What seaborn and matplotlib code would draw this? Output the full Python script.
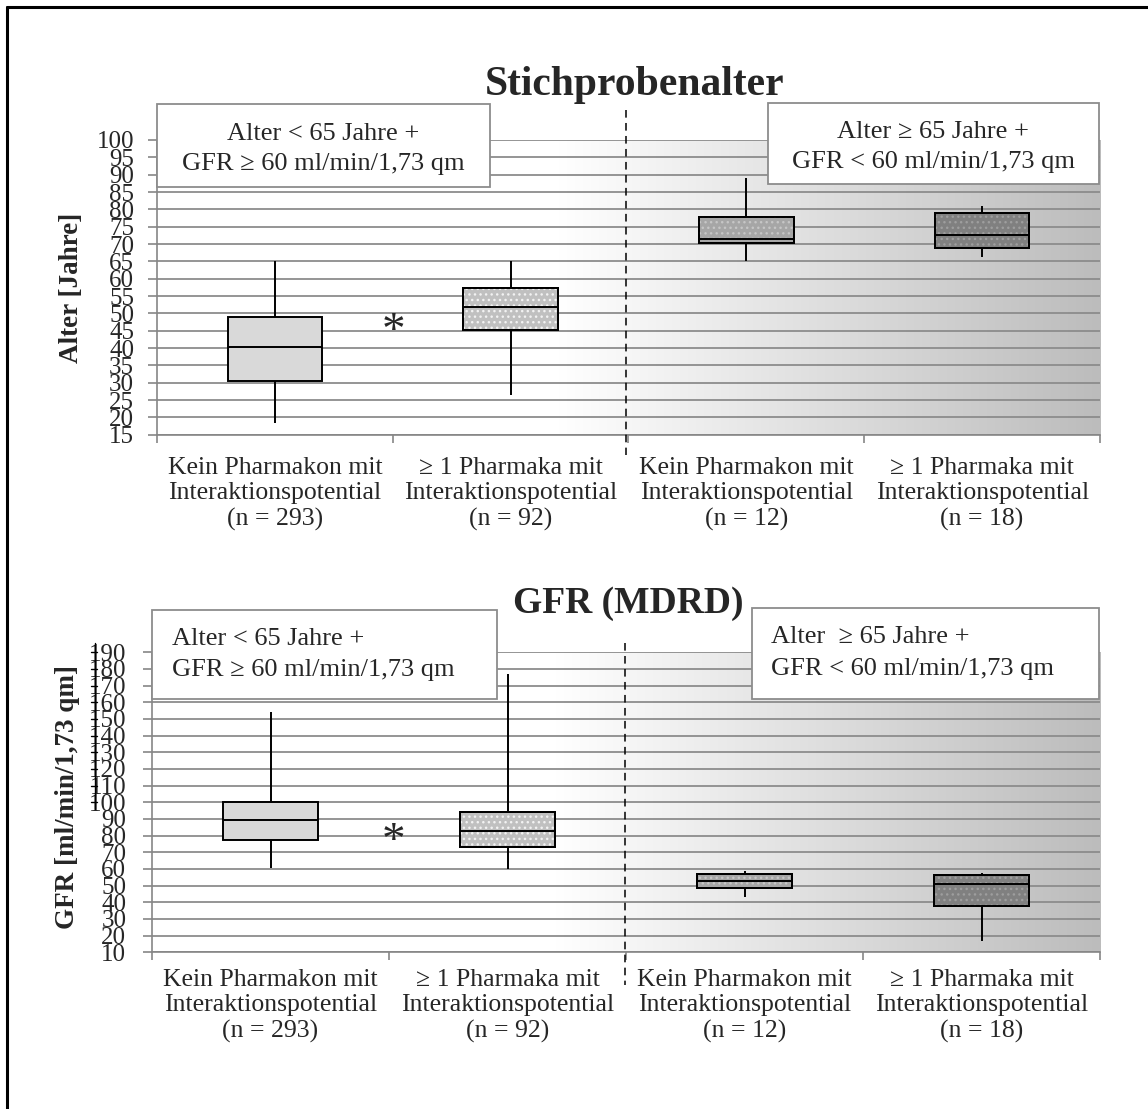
import numpy as np
import pandas as pd
import seaborn as sns
import matplotlib.pyplot as plt
import matplotlib.transforms as mtransforms
from matplotlib.patches import Rectangle, PathPatch
from matplotlib.lines import Line2D
from matplotlib.colors import LinearSegmentedColormap

# Kategorien (x-Achse)
kategorien = [
    "Kein Pharmakon mit\nInteraktionspotential\n(n = 293)",
    "≥ 1 Pharmaka mit\nInteraktionspotential\n(n = 92)",
    "Kein Pharmakon mit\nInteraktionspotential\n(n = 12)",
    "≥ 1 Pharmaka mit\nInteraktionspotential\n(n = 18)",
]

# Fuenf-Punkte-Zusammenfassung je Gruppe: min, Q1, Median, Q3, max
alter_g1 = [18.4, 30.6, 40.2, 49.0, 65.0]
alter_g2 = [26.4, 45.2, 51.9, 57.2, 65.0]
alter_g3 = [65.1, 70.3, 71.4, 77.7, 89.0]
alter_g4 = [66.3, 68.9, 72.6, 78.9, 81.0]

gfr_g1 = [60.4, 77.4, 89.4, 100.3, 154.0]
gfr_g2 = [60.2, 73.4, 83.0, 94.0, 177.0]
gfr_g3 = [43.4, 48.4, 53.0, 56.8, 58.8]
gfr_g4 = [16.8, 38.0, 50.8, 56.2, 57.8]

farben = ["#d9d9d9", "#c0c0c0", "#a6a6a6", "#808080"]
punktfarben = [None, "#f2f2f2", "#c6c6c6", "#9e9e9e"]

W, H = 1148, 1109

sns.set_style("white")
plt.rcParams['font.family'] = ['Liberation Serif', 'DejaVu Serif']

fig = plt.figure(figsize=(W / 100, H / 100), dpi=100)


def fx(x):
    return x / W


def fy(y):
    return 1 - y / H


def achse(l, t, r, b):
    return fig.add_axes([fx(l), fy(b), (r - l) / W, (b - t) / H])


verlauf = LinearSegmentedColormap.from_list("verlauf", ["#ffffff", "#bcbcbc"])


def panel(ax, werte, ymin, ymax, schritt, tickpad, labelpad):
    df = pd.DataFrame({
        "gruppe": np.repeat(kategorien, 5),
        "wert": np.concatenate(werte),
    })
    sns.boxplot(data=df, x="gruppe", y="wert", hue="gruppe", order=kategorien,
                hue_order=kategorien, palette=farben, whis=(0, 100), width=0.4,
                linecolor="black", linewidth=1.4, showcaps=False, legend=False, ax=ax)
    boxen = list(ax.patches)
    # Punktraster auf den Boxen
    for p, pc in zip(boxen, punktfarben):
        if pc is None:
            continue
        ax.add_patch(PathPatch(p.get_path(), transform=p.get_transform(), facecolor="none",
                               edgecolor=pc, linewidth=0, hatch="...", zorder=2.01))
        ax.add_patch(PathPatch(p.get_path(), transform=p.get_transform(), facecolor="none",
                               edgecolor="black", linewidth=1.4, zorder=2.02))
    # grauer Verlauf rechts
    ax.imshow(np.linspace(0, 1, 256)[None, :], cmap=verlauf, extent=(1.2, 3.5, ymin, ymax),
              aspect="auto", zorder=0, interpolation="bilinear")
    ax.set_xlim(-0.5, 3.5)
    ax.set_ylim(ymin, ymax)
    ax.set_xlabel("")
    ax.set_ylabel("")
    ax.set_axisbelow(True)
    ax.yaxis.grid(True, color="#8c8c8c", linewidth=1.3)
    ax.set_yticks(np.arange(ymin, ymax + 1, schritt))
    ax.tick_params(axis="y", left=True, direction="out", length=6.5, width=1.2,
                   color="#868686", pad=tickpad, labelsize=18)
    ax.set_xticks(range(4))
    ax.set_xticklabels(kategorien)
    ax.tick_params(axis="x", which="major", length=0, pad=labelpad, labelsize=18.5)
    ax.set_xticks(np.arange(-0.5, 4, 1), minor=True)
    ax.tick_params(axis="x", which="minor", bottom=True, length=6, width=1.2,
                   color="#868686", direction="out")
    for s in ["top", "right"]:
        ax.spines[s].set_visible(False)
    for s in ["left", "bottom"]:
        ax.spines[s].set_color("#868686")
        ax.spines[s].set_linewidth(1.2)


ax1 = achse(157, 140, 1100, 434.7)
panel(ax1, [alter_g1, alter_g2, alter_g3, alter_g4], 15, 100, 5, 10, 16)

ax2 = achse(152, 652.3, 1100, 952.3)
panel(ax2, [gfr_g1, gfr_g2, gfr_g3, gfr_g4], 10, 190, 10, 12, 12)

# Titel und Achsenbeschriftungen
fig.text(fx(635), fy(95), "Stichprobenalter", fontsize=30, fontweight="bold",
         ha="center", va="baseline")
fig.text(fx(628), fy(613), "GFR (MDRD)", fontsize=27, fontweight="bold",
         ha="center", va="baseline")
fig.text(fx(72), fy(288), "Alter [Jahre]", rotation=90, fontsize=19.5,
         fontweight="bold", ha="center", va="center")
fig.text(fx(67.5), fy(797), "GFR [ml/min/1,73 qm]", rotation=90, fontsize=19.5,
         fontweight="bold", ha="center", va="center")


def kasten(l, t, r, b):
    fig.add_artist(Rectangle((fx(l), fy(b)), (r - l) / W, (b - t) / H,
                             transform=fig.transFigure, facecolor="white",
                             edgecolor="#8c8c8c", linewidth=1.3, zorder=3))


# Textkaesten oben
kasten(157, 104, 490, 187)
fig.text(fx(323.5), fy(140), "Alter < 65 Jahre +", fontsize=19, ha="center", va="baseline", zorder=4)
fig.text(fx(323.5), fy(170), "GFR ≥ 60 ml/min/1,73 qm", fontsize=19, ha="center", va="baseline", zorder=4)
kasten(767.5, 103, 1099, 184)
fig.text(fx(933), fy(138), "Alter ≥ 65 Jahre +", fontsize=19, ha="center", va="baseline", zorder=4)
fig.text(fx(933), fy(168), "GFR < 60 ml/min/1,73 qm", fontsize=19, ha="center", va="baseline", zorder=4)

# Textkaesten unten
kasten(152, 610, 497, 699)
fig.text(fx(172), fy(645), "Alter < 65 Jahre +", fontsize=19, ha="left", va="baseline", zorder=4)
fig.text(fx(172), fy(676), "GFR ≥ 60 ml/min/1,73 qm", fontsize=19, ha="left", va="baseline", zorder=4)
kasten(751.5, 608, 1099, 699)
fig.text(fx(771), fy(643), "Alter  ≥ 65 Jahre +", fontsize=19, ha="left", va="baseline", zorder=4)
fig.text(fx(771), fy(675), "GFR < 60 ml/min/1,73 qm", fontsize=19, ha="left", va="baseline", zorder=4)

# Signifikanz-Sterne
fig.text(fx(393), fy(344), "*", fontsize=34, ha="center", va="baseline")
fig.text(fx(393), fy(854), "*", fontsize=34, ha="center", va="baseline")

# gestrichelte Trennlinien
fig.add_artist(Line2D([fx(626), fx(626)], [fy(110), fy(455)], color="black", lw=1.1,
                      linestyle=(0, (5, 3.5)), transform=fig.transFigure))
fig.add_artist(Line2D([fx(625), fx(625)], [fy(643), fy(985)], color="black", lw=1.1,
                      linestyle=(0, (5, 3.5)), transform=fig.transFigure))

# kleine Reste einer zweiten Achse links im unteren Diagramm
trans = mtransforms.blended_transform_factory(fig.transFigure, ax2.transData)
ax2.add_line(Line2D([fx(95), fx(95)], [96, 195.5], color="black", lw=1.0,
                    transform=trans, clip_on=False))
for v in np.arange(100, 191, 10):
    ax2.add_line(Line2D([fx(91), fx(97)], [v, v], color="black", lw=1.0,
                        transform=trans, clip_on=False))

# Rahmen
fig.add_artist(Line2D([fx(7), fx(7)], [fy(7), fy(1109)], color="black", lw=2.2,
                      transform=fig.transFigure))
fig.add_artist(Line2D([fx(7), fx(1148)], [fy(7), fy(7)], color="black", lw=2.2,
                      transform=fig.transFigure))

fig.savefig("out.png", dpi=100)
